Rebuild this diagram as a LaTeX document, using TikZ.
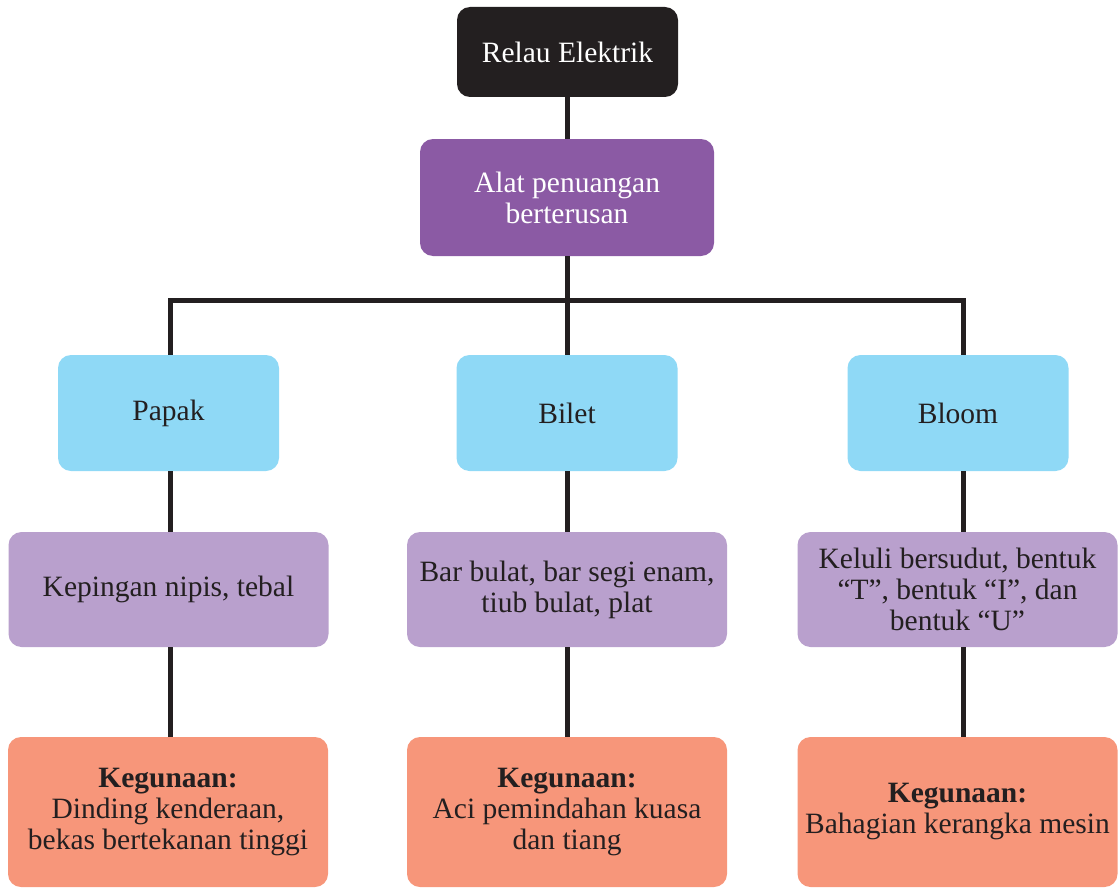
\documentclass[tikz,border=0pt]{standalone}
\usepackage{fontspec}
\setmainfont{Liberation Serif}
\definecolor{ink}{HTML}{231F20}
\definecolor{furnace}{HTML}{231F20}
\definecolor{caster}{HTML}{8B5AA4}
\definecolor{shape}{HTML}{8FD9F6}
\definecolor{form}{HTML}{B9A0CD}
\definecolor{use}{HTML}{F7967A}
\begin{document}
\begin{tikzpicture}[x=1pt,y=-1pt,
  box/.style={rounded corners=13pt, draw=none, align=center, inner sep=0pt,
    font=\fontsize{29.5}{31}\selectfont, text=ink},
  topbox/.style={box, fill=furnace, text=white, minimum width=221pt, minimum height=90pt},
  castbox/.style={box, fill=caster, text=white, minimum width=294pt, minimum height=117pt},
  shapebox/.style={box, fill=shape, minimum width=221pt, minimum height=116pt},
  formbox/.style={box, fill=form, minimum width=320pt, minimum height=115pt},
  usebox/.style={box, fill=use, minimum width=320pt, minimum height=150pt},
  link/.style={draw=ink, line width=5pt, line join=miter}]
\useasboundingbox (0,0) rectangle (1118,888);

% top of the tree
\node[topbox]  (relau) at (567.5,52)  {Relau Elektrik};
\node[castbox] (alat)  at (567,197.5) {Alat penuangan\\berterusan};

% product shapes
\node[shapebox] (papak) at (168.5,413) {Papak};
\node[shapebox] (bilet) at (567,413)   {Bilet};
\node[shapebox] (bloom) at (958,413)   {Bloom};

% product forms
\node[formbox] (fpapak) at (168.5,589.5) {Kepingan nipis, tebal};
\node[formbox] (fbilet) at (567,589.5)   {Bar bulat, bar segi enam,\\tiub bulat, plat};
\node[formbox] (fbloom) at (957.5,589.5) {Keluli bersudut, bentuk\\“T”, bentuk “I”, dan\\bentuk “U”};

% uses
\node[usebox] (upapak) at (168,812) {\textbf{Kegunaan:}\\Dinding kenderaan,\\bekas bertekanan tinggi};
\node[usebox] (ubilet) at (567,812) {\textbf{Kegunaan:}\\Aci pemindahan kuasa\\dan tiang};
\node[usebox] (ubloom) at (957.5,812) {\textbf{Kegunaan:}\\Bahagian kerangka mesin};

% branching bus
\coordinate (busL) at (170.5,300);
\coordinate (busM) at (567.5,300);
\coordinate (busR) at (963.5,300);

\path[link] (relau.south -| busM) -- (alat.north -| busM);
\path[link] (alat.south -| busM) -- (busM);
\path[link] (busL |- papak.north) -- (busL) -- (busR) -- (busR |- bloom.north);
\path[link] (busM) -- (busM |- bilet.north);

\path[link] (papak.south -| busL) -- (fpapak.north -| busL);
\path[link] (bilet.south -| busM) -- (fbilet.north -| busM);
\path[link] (bloom.south -| busR) -- (fbloom.north -| busR);

\path[link] (fpapak.south -| busL) -- (upapak.north -| busL);
\path[link] (fbilet.south -| busM) -- (ubilet.north -| busM);
\path[link] (fbloom.south -| busR) -- (ubloom.north -| busR);
\end{tikzpicture}
\end{document}
